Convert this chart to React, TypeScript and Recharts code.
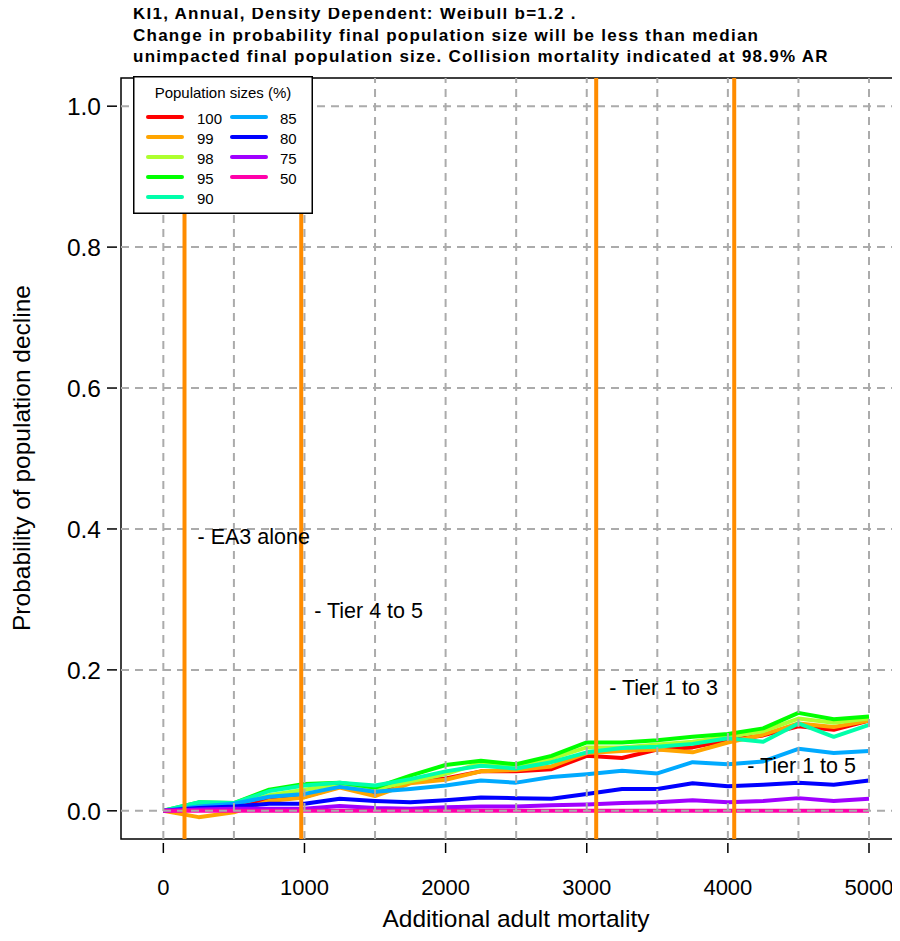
import React from 'react';
import { LineChart, Line, XAxis, YAxis, ReferenceLine, ReferenceArea, ReferenceDot, Legend } from 'recharts';

// additional adult mortality (x)
const mortality = [0, 250, 500, 750, 1000, 1250, 1500, 1750, 2000, 2250, 2500, 2750, 3000, 3250, 3500, 3750, 4000, 4250, 4500, 4750, 5000];

// population sizes (%) and their colours
const popSizes = ['100', '99', '98', '95', '90', '85', '80', '75', '50'];
const colours = ['#FF0000', '#FFA500', '#ADFF2F', '#00FF00', '#00FFAA', '#00AAFF', '#0000FF', '#A000FF', '#FF00AA'];

// probability of decline per population size
const p100 = [0, 0.004, 0.006, 0.015, 0.02, 0.034, 0.024, 0.042, 0.046, 0.056, 0.056, 0.059, 0.078, 0.075, 0.087, 0.09, 0.1, 0.107, 0.12, 0.115, 0.128];
const p99 = [0, -0.009, -0.002, 0.014, 0.019, 0.033, 0.021, 0.039, 0.044, 0.056, 0.058, 0.063, 0.082, 0.085, 0.087, 0.083, 0.097, 0.108, 0.124, 0.119, 0.128];
const p98 = [0, 0.008, 0.009, 0.022, 0.03, 0.038, 0.03, 0.042, 0.052, 0.068, 0.063, 0.074, 0.09, 0.09, 0.094, 0.098, 0.105, 0.113, 0.131, 0.125, 0.131];
const p95 = [0, 0.012, 0.011, 0.03, 0.038, 0.04, 0.033, 0.05, 0.065, 0.071, 0.066, 0.078, 0.097, 0.097, 0.1, 0.105, 0.109, 0.117, 0.139, 0.13, 0.134];
const p90 = [0, 0.012, 0.011, 0.028, 0.036, 0.04, 0.036, 0.045, 0.056, 0.064, 0.06, 0.069, 0.083, 0.089, 0.091, 0.095, 0.103, 0.098, 0.124, 0.105, 0.122];
const p85 = [0, 0.006, 0.01, 0.02, 0.024, 0.034, 0.027, 0.031, 0.036, 0.043, 0.04, 0.048, 0.052, 0.057, 0.053, 0.069, 0.066, 0.07, 0.088, 0.082, 0.085];
const p80 = [0, 0.004, 0.006, 0.01, 0.01, 0.017, 0.014, 0.012, 0.015, 0.019, 0.018, 0.017, 0.024, 0.031, 0.031, 0.039, 0.035, 0.037, 0.04, 0.037, 0.043];
const p75 = [0, 0.002, 0.003, 0.003, 0.003, 0.007, 0.004, 0.003, 0.005, 0.006, 0.006, 0.008, 0.009, 0.011, 0.012, 0.015, 0.012, 0.014, 0.018, 0.014, 0.017];
const p50 = [0, 0, 0, 0, 0, 0, 0, 0, 0, 0, 0, 0, 0, 0, 0, 0, 0, 0, 0, 0, 0];
const seriesValues = [p100, p99, p98, p95, p90, p85, p80, p75, p50];

// collision mortality markers
const tierX = [150, 977, 3067, 4045];
const tierLabels = ['- EA3 alone', '- Tier 4 to 5', '- Tier 1 to 3', '- Tier 1 to 5'];
const tierLabelY = [0.39, 0.285, 0.175, 0.065];

const xTicks = [0, 1000, 2000, 3000, 4000, 5000];
const yTicks = [0, 0.2, 0.4, 0.6, 0.8, 1.0];
const gridX = [0, 500, 1000, 1500, 2000, 2500, 3000, 3500, 4000, 4500, 5000];

const titleLines = [
    'KI1, Annual, Density Dependent: Weibull b=1.2 .',
    'Change in probability final population size will be less than median',
    'unimpacted final population size. Collision mortality indicated at 98.9% AR',
];

const data = mortality.map((m, i) => {
    const row: any = { x: m };
    popSizes.forEach((p, j) => { row['s' + p] = seriesValues[j][i]; });
    return row;
});

const XTick = (props: any) => {
    const { x, y, payload } = props;
    return (
        <g>
            <line x1={x} x2={x} y1={y + 4} y2={y + 14} stroke="#000" strokeWidth={1.5} />
            <text x={x} y={y + 56} textAnchor="middle" fontSize={22} fill="#000">{payload.value}</text>
        </g>
    );
};

const YTick = (props: any) => {
    const { x, y, payload } = props;
    return (
        <g>
            <line x1={x - 14} x2={x - 4} y1={y} y2={y} stroke="#000" strokeWidth={1.5} />
            <text x={x - 20} y={y + 9} textAnchor="end" fontSize={24.5} fill="#000">{payload.value.toFixed(1)}</text>
        </g>
    );
};

const renderLegend = () => (
    <svg width={180} height={138}>
        <rect x={0.75} y={0.75} width={178.5} height={136.5} fill="#fff" stroke="#000" strokeWidth={1.5} />
        <text x={90} y={22} textAnchor="middle" fontSize={15}>Population sizes (%)</text>
        {popSizes.map((p, i) => {
            const col = i < 5 ? 0 : 1;
            const row = i < 5 ? i : i - 5;
            const y = 41 + row * 20;
            const lx = col === 0 ? 15 : 99;
            return (
                <g key={p}>
                    <line x1={lx} x2={lx + 34} y1={y} y2={y} stroke={colours[i]} strokeWidth={4} strokeLinecap="round" />
                    <text x={col === 0 ? 64 : 147} y={y + 7} fontSize={15}>{p}</text>
                </g>
            );
        })}
    </svg>
);

export default function App() {
    return (
        <div style={{ position: 'relative', width: 900, height: 925, fontFamily: '"Liberation Sans", Arial, sans-serif' }}>
            <div style={{ position: 'absolute', left: 125, top: -5, fontSize: 17, fontWeight: 'bold', letterSpacing: '1.25px', lineHeight: '21.5px', zIndex: 2, whiteSpace: 'nowrap' }}>
                {titleLines.map((t) => <div key={t}>{t}</div>)}
            </div>
            <LineChart width={900} height={925} data={data} margin={{ top: 70, right: 15, bottom: 0, left: 0 }}>
                <XAxis
                    dataKey="x"
                    type="number"
                    domain={[-300, 5170]}
                    allowDataOverflow
                    ticks={xTicks}
                    axisLine={false}
                    tickLine={false}
                    tickSize={0}
                    tickMargin={0}
                    height={94}
                    tick={<XTick />}
                    label={{
                        content: () => (
                            <text x={508} y={919} textAnchor="middle" fontSize={24.5}>Additional adult mortality</text>
                        ),
                    }}
                />
                <YAxis
                    type="number"
                    domain={[-0.04, 1.04]}
                    allowDataOverflow
                    ticks={yTicks}
                    axisLine={false}
                    tickLine={false}
                    tickSize={0}
                    tickMargin={0}
                    width={113}
                    tick={<YTick />}
                    label={{
                        content: () => (
                            <text x={22} y={450} transform="rotate(-90 22 450)" textAnchor="middle" fontSize={24.5}>Probability of population decline</text>
                        ),
                    }}
                />
                {popSizes.map((p, i) => (
                    <Line
                        key={p}
                        dataKey={'s' + p}
                        type="linear"
                        stroke={colours[i]}
                        strokeWidth={4}
                        strokeLinejoin="round"
                        dot={false}
                        isAnimationActive={false}
                    />
                ))}
                {gridX.map((g) => (
                    <ReferenceLine key={'gx' + g} x={g} stroke="#ABABAB" strokeWidth={2} strokeDasharray="8 6" />
                ))}
                {yTicks.map((g) => (
                    <ReferenceLine key={'gy' + g} y={g} stroke="#ABABAB" strokeWidth={2} strokeDasharray="8 6" />
                ))}
                {tierX.map((t) => (
                    <ReferenceLine key={'t' + t} x={t} stroke="#FF8C00" strokeWidth={4} />
                ))}
                {tierX.map((t, i) => (
                    <ReferenceDot
                        key={'l' + t}
                        x={t}
                        y={tierLabelY[i]}
                        r={0}
                        fill="none"
                        stroke="none"
                        label={{ value: tierLabels[i], position: 'right', offset: 13, fontSize: 21.5, fill: '#000' }}
                    />
                ))}
                <ReferenceArea x1={-300} x2={5170} y1={-0.04} y2={1.04} fill="none" stroke="#000" strokeWidth={1.5} ifOverflow="visible" />
                <Legend
                    layout="horizontal"
                    verticalAlign="middle"
                    align="center"
                    content={renderLegend}
                    wrapperStyle={{ left: 125, top: 68, width: 180, height: 138 }}
                />
            </LineChart>
        </div>
    );
}
